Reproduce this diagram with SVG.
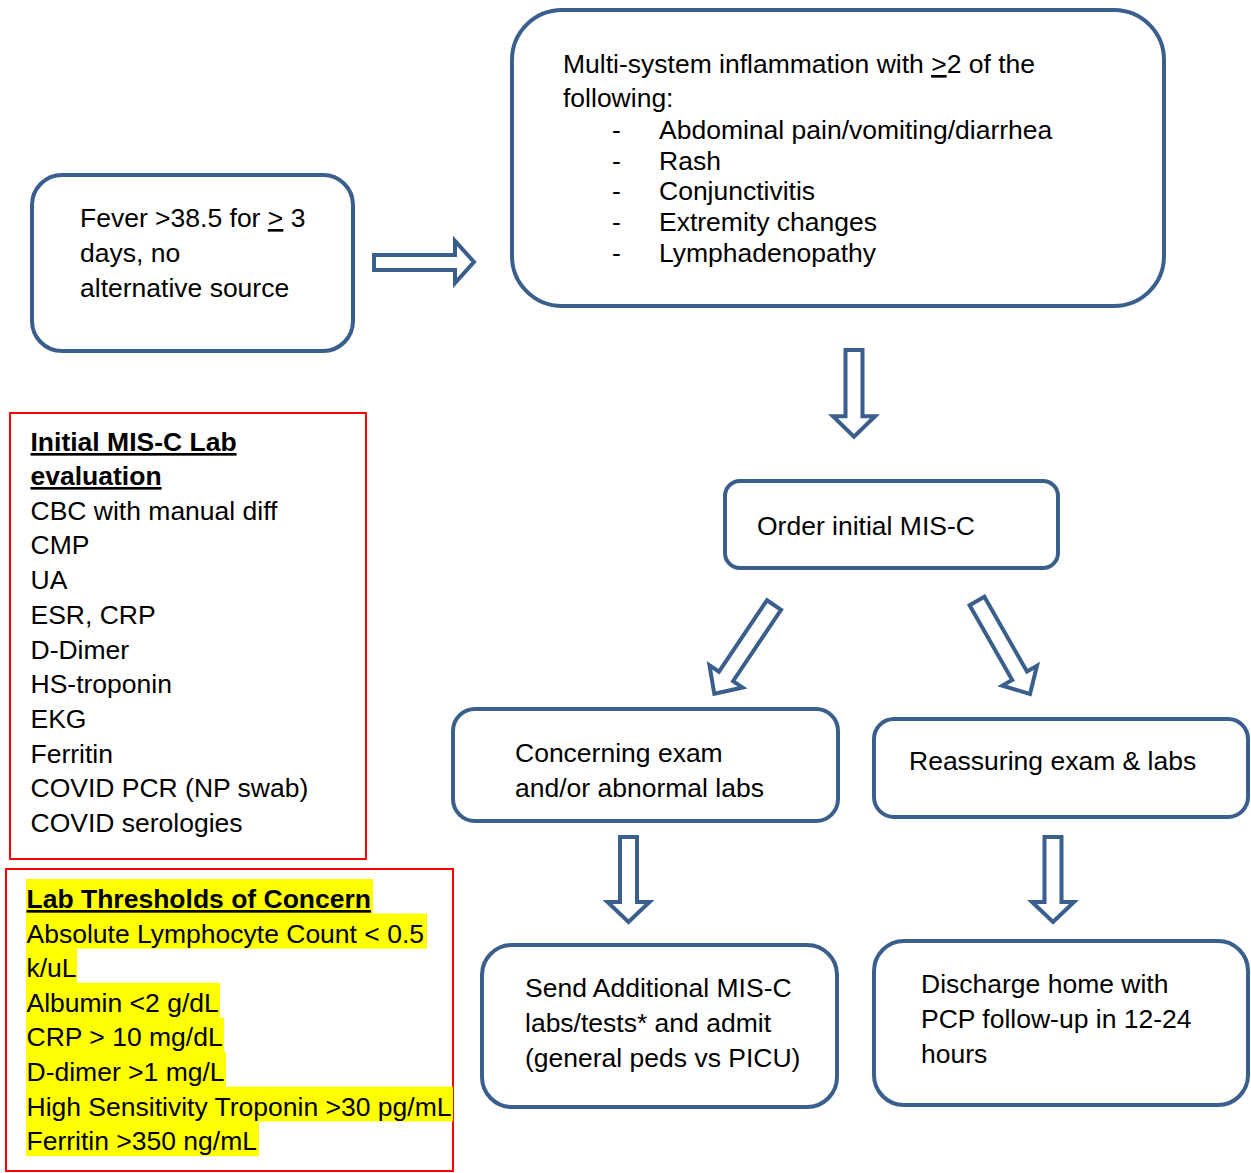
<svg xmlns="http://www.w3.org/2000/svg" width="1251" height="1173" viewBox="0 0 1251 1173">
<style>
  .box { fill: #ffffff; stroke: #3A5F8D; stroke-width: 4; }
  .redbox { fill: #ffffff; stroke: #FF0000; stroke-width: 2; }
  .arrow { fill: #ffffff; stroke: #3A5F8D; stroke-width: 4; stroke-linejoin: miter; }
  .hl { fill: #FFFF00; }
  text { font-family: "Liberation Sans", Arial, sans-serif; font-size: 26.5px; fill: #000000; }
  .b { font-weight: bold; text-decoration: underline; }
  .u { text-decoration: underline; }
</style>
<defs>
  <polygon id="dn" points="-8.5,0 8.5,0 8.5,65 21,65 0,85 -21,65 -8.5,65"/>
  <polygon id="diag" points="-8.5,0 8.5,0 8.5,86 20,86 0,107 -20,86 -8.5,86"/>
</defs>
<rect width="1251" height="1173" fill="#ffffff"/>

<g id="connectors">
  <polygon class="arrow" points="374,255 455,255 455,241 474,262 455,283 455,270 374,270"/>
  <use href="#dn" class="arrow" transform="translate(854,350) scale(1,1.02)"/>
  <use href="#diag" class="arrow" transform="translate(774,605) rotate(33.9)"/>
  <use href="#diag" class="arrow" transform="translate(977,601) rotate(-29.7)"/>
  <use href="#dn" class="arrow" transform="translate(628.5,837)"/>
  <use href="#dn" class="arrow" transform="translate(1053,837)"/>
</g>

<g id="fever">
  <rect class="box" x="32" y="175" width="321" height="176" rx="30"/>
  <text x="80" y="227">Fever &gt;38.5 for <tspan class="u">&gt;</tspan> 3</text>
  <text x="80" y="262">days, no</text>
  <text x="80" y="297">alternative source</text>
</g>

<g id="multisystem">
  <rect class="box" x="512" y="10" width="652" height="296" rx="50"/>
  <text x="563" y="73">Multi-system inflammation with <tspan class="u">&gt;</tspan>2 of the</text>
  <text x="563" y="107">following:</text>
  <text x="612" y="139">-</text><text x="659" y="139">Abdominal pain/vomiting/diarrhea</text>
  <text x="612" y="170">-</text><text x="659" y="170">Rash</text>
  <text x="612" y="200">-</text><text x="659" y="200">Conjunctivitis</text>
  <text x="612" y="231">-</text><text x="659" y="231">Extremity changes</text>
  <text x="612" y="262">-</text><text x="659" y="262">Lymphadenopathy</text>
</g>

<g id="initial-labs">
  <rect class="redbox" x="10" y="413" width="356" height="446"/>
  <text class="b" x="30.5" y="451">Initial MIS-C Lab</text>
  <text class="b" x="30.5" y="485">evaluation</text>
  <text x="30.5" y="520">CBC with manual diff</text>
  <text x="30.5" y="554">CMP</text>
  <text x="30.5" y="589">UA</text>
  <text x="30.5" y="624">ESR, CRP</text>
  <text x="30.5" y="659">D-Dimer</text>
  <text x="30.5" y="693">HS-troponin</text>
  <text x="30.5" y="728">EKG</text>
  <text x="30.5" y="763">Ferritin</text>
  <text x="30.5" y="797">COVID PCR (NP swab)</text>
  <text x="30.5" y="832">COVID serologies</text>
</g>

<g id="thresholds">
  <rect class="redbox" x="6" y="869" width="447" height="302"/>
  <rect class="hl" x="26" y="879" width="347" height="35"/>
  <rect class="hl" x="26" y="913.6" width="401" height="35"/>
  <rect class="hl" x="26" y="948.2" width="51" height="35"/>
  <rect class="hl" x="26" y="982.8" width="194" height="35"/>
  <rect class="hl" x="26" y="1017.4" width="198" height="35"/>
  <rect class="hl" x="26" y="1052" width="200" height="35"/>
  <rect class="hl" x="26" y="1086.6" width="427" height="35"/>
  <rect class="hl" x="26" y="1121.2" width="233" height="35"/>
  <text class="b" x="26.5" y="908">Lab Thresholds of Concern</text>
  <text x="26.5" y="942.6">Absolute Lymphocyte Count &lt; 0.5</text>
  <text x="26.5" y="977.2">k/uL</text>
  <text x="26.5" y="1011.8">Albumin &lt;2 g/dL</text>
  <text x="26.5" y="1046.4">CRP &gt; 10 mg/dL</text>
  <text x="26.5" y="1081">D-dimer &gt;1 mg/L</text>
  <text x="26.5" y="1115.6">High Sensitivity Troponin &gt;30 pg/mL</text>
  <text x="26.5" y="1150.2">Ferritin &gt;350 ng/mL</text>
</g>

<g id="order">
  <rect class="box" x="725" y="481" width="333" height="87" rx="15"/>
  <text x="757" y="535">Order initial MIS-C</text>
</g>

<g id="concerning">
  <rect class="box" x="453" y="709" width="385" height="112" rx="22"/>
  <text x="515" y="762">Concerning exam</text>
  <text x="515" y="797">and/or abnormal labs</text>
</g>

<g id="reassuring">
  <rect class="box" x="874" y="719" width="374" height="98" rx="20"/>
  <text x="909" y="770">Reassuring exam &amp; labs</text>
</g>

<g id="admit">
  <rect class="box" x="482" y="945" width="355" height="162" rx="30"/>
  <text x="525" y="997">Send Additional MIS-C</text>
  <text x="525" y="1032">labs/tests* and admit</text>
  <text x="525" y="1067">(general peds vs PICU)</text>
</g>

<g id="discharge">
  <rect class="box" x="874" y="941" width="374" height="164" rx="30"/>
  <text x="921" y="993">Discharge home with</text>
  <text x="921" y="1028">PCP follow-up in 12-24</text>
  <text x="921" y="1063">hours</text>
</g>
</svg>
